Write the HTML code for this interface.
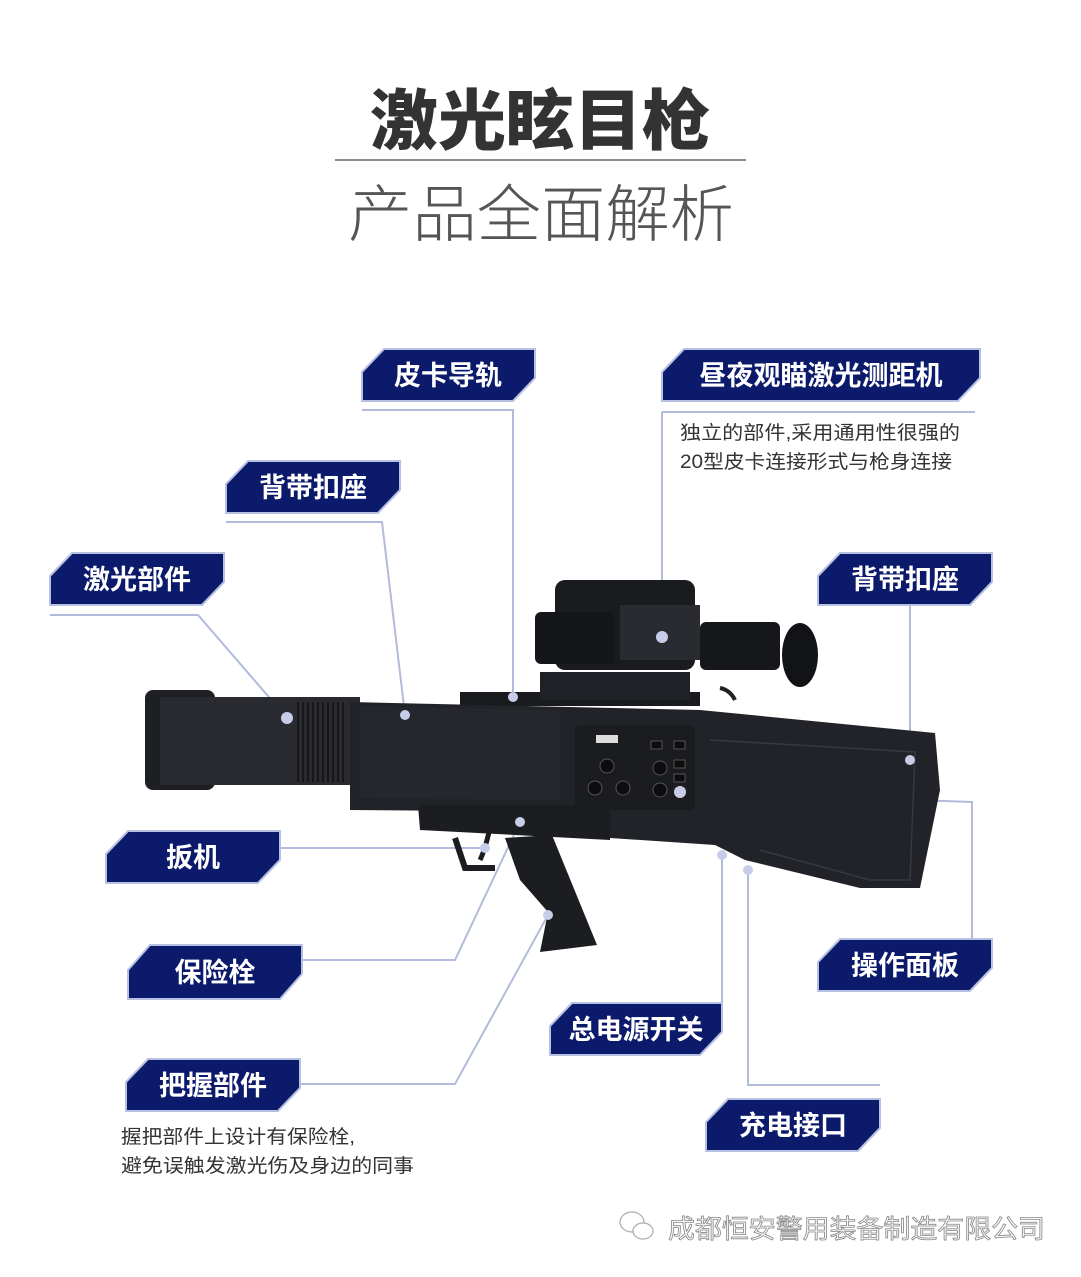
<!DOCTYPE html>
<html><head><meta charset="utf-8"><style>
html,body{margin:0;padding:0;background:#fff;}
svg{display:block;font-family:"Liberation Sans","Noto Sans CJK SC",sans-serif;}
</style></head><body>
<svg width="1081" height="1277" viewBox="0 0 1081 1277" xmlns="http://www.w3.org/2000/svg">
<rect width="1081" height="1277" fill="#fff"/>
<!-- Title -->
<text x="370" y="144" font-size="66" font-weight="900" fill="#333" textLength="340" lengthAdjust="spacingAndGlyphs">激光眩目枪</text>
<line x1="335" y1="160" x2="746" y2="160" stroke="#666" stroke-width="1.5"/>
<text x="348" y="236" font-size="62" font-weight="300" fill="#555" textLength="386" lengthAdjust="spacingAndGlyphs" font-family="'Noto Sans CJK SC',sans-serif">产品全面解析</text>

<!-- connector lines -->
<g stroke="#b3bbdc" stroke-width="2" fill="none">
<polyline points="362,410 513,410 513,697"/>
<polyline points="662,412 975,412"/>
<polyline points="662,412 662,637"/>
<polyline points="226,522 382,522 405,715"/>
<polyline points="50,615 198,615 287,718"/>
<polyline points="910,605 910,760"/>
<polyline points="280,848 485,848"/>
<polyline points="302,960 455,960 520,822"/>
<polyline points="300,1084 455,1084 548,915"/>
<polyline points="972,938 972,802 680,792"/>
<polyline points="722,1002 722,855"/>
<polyline points="880,1085 748,1085 748,870"/>
</g>

<!-- Gun -->
<g>
<rect x="145" y="690" width="70" height="100" rx="8" fill="#1e1f24"/>
<rect x="160" y="697" width="200" height="88" fill="#2a2b30"/>
<g stroke="#111" stroke-width="1.5">
<line x1="298" y1="702" x2="298" y2="782"/><line x1="303" y1="702" x2="303" y2="782"/><line x1="308" y1="702" x2="308" y2="782"/><line x1="313" y1="702" x2="313" y2="782"/><line x1="318" y1="702" x2="318" y2="782"/><line x1="323" y1="702" x2="323" y2="782"/><line x1="328" y1="702" x2="328" y2="782"/><line x1="333" y1="702" x2="333" y2="782"/><line x1="338" y1="702" x2="338" y2="782"/><line x1="343" y1="702" x2="343" y2="782"/>
</g>
<rect x="460" y="692" width="240" height="14" fill="#1a1b1f"/>
<rect x="540" y="672" width="150" height="28" fill="#202126"/>
<rect x="555" y="580" width="140" height="90" rx="10" fill="#1a1b1f"/>
<rect x="535" y="612" width="80" height="52" rx="6" fill="#15161a"/>
<rect x="620" y="605" width="80" height="55" fill="#2a2b30"/>
<rect x="700" y="622" width="80" height="48" rx="6" fill="#16171b"/>
<ellipse cx="800" cy="655" rx="18" ry="32" fill="#121316"/>
<path d="M720 688 Q730 690 735 700" stroke="#222" stroke-width="4" fill="none"/>
<polygon points="350,702 700,710 935,733 940,790 920,888 860,888 745,860 715,845 610,838 610,812 350,810" fill="#222328"/>
<polygon points="360,706 560,710 560,800 360,798" fill="#26272c"/>
<rect x="575" y="725" width="120" height="85" rx="6" fill="#1b1c20"/>
<rect x="596" y="735" width="22" height="8" fill="#ddd"/>
<g fill="#0d0d10" stroke="#555" stroke-width="1">
<circle cx="607" cy="766" r="7"/><circle cx="595" cy="788" r="7"/><circle cx="623" cy="788" r="7"/><circle cx="660" cy="768" r="7"/><circle cx="660" cy="790" r="7"/>
<rect x="651" y="741" width="11" height="8"/><rect x="674" y="741" width="11" height="8"/><rect x="674" y="760" width="11" height="8"/><rect x="674" y="774" width="11" height="8"/>
</g>
<path d="M710 740 L915 752 L910 880 L870 880 L760 850" stroke="#38393f" stroke-width="1.5" fill="none"/>
<polygon points="418,805 610,805 610,840 420,830" fill="#1c1d21"/>
<path d="M455 838 L465 868 L495 868" stroke="#1c1d21" stroke-width="6" fill="none"/>
<path d="M490 828 Q485 850 480 860" stroke="#1c1d21" stroke-width="5" fill="none"/>
<polygon points="505,838 552,835 597,945 540,952 548,912 520,880" fill="#1c1d21"/>
</g>

<!-- dots -->
<g fill="#c7cde8">
<circle cx="513" cy="697" r="5"/><circle cx="662" cy="637" r="6"/><circle cx="405" cy="715" r="5"/><circle cx="287" cy="718" r="6"/><circle cx="910" cy="760" r="5"/><circle cx="485" cy="848" r="5"/><circle cx="520" cy="822" r="5"/><circle cx="548" cy="915" r="5"/><circle cx="680" cy="792" r="6"/><circle cx="722" cy="855" r="5"/><circle cx="748" cy="870" r="5"/>
</g>

<!-- labels -->
<g fill="#0c1a6c" stroke="#b8c0e2" stroke-width="2">
<polygon points="384,349 535,349 535,378 513,401 362,401 362,372"/>
<polygon points="684,349 980,349 980,378 958,401 662,401 662,372"/>
<polygon points="248,461 400,461 400,490 378,513 226,513 226,484"/>
<polygon points="72,553 224,553 224,582 202,605 50,605 50,576"/>
<polygon points="840,553 992,553 992,582 970,605 818,605 818,576"/>
<polygon points="128,831 280,831 280,860 258,883 106,883 106,854"/>
<polygon points="150,945 302,945 302,974 280,999 128,999 128,970"/>
<polygon points="148,1059 300,1059 300,1088 278,1111 126,1111 126,1082"/>
<polygon points="840,939 992,939 992,968 970,991 818,991 818,962"/>
<polygon points="572,1003 722,1003 722,1032 700,1055 550,1055 550,1026"/>
<polygon points="728,1099 880,1099 880,1128 858,1151 706,1151 706,1122"/>
</g>
<g fill="#fff" font-size="27" font-weight="bold" text-anchor="middle">
<text x="448" y="385">皮卡导轨</text>
<text x="821" y="385">昼夜观瞄激光测距机</text>
<text x="313" y="497">背带扣座</text>
<text x="137" y="589">激光部件</text>
<text x="905" y="589">背带扣座</text>
<text x="193" y="867">扳机</text>
<text x="215" y="982">保险栓</text>
<text x="213" y="1095">把握部件</text>
<text x="905" y="975">操作面板</text>
<text x="636" y="1039">总电源开关</text>
<text x="793" y="1135">充电接口</text>
</g>
<g fill="#333" font-size="19">
<text x="680" y="439" textLength="280" lengthAdjust="spacingAndGlyphs">独立的部件,采用通用性很强的</text>
<text x="680" y="468" textLength="272" lengthAdjust="spacingAndGlyphs">20型皮卡连接形式与枪身连接</text>
<text x="121" y="1143" textLength="234" lengthAdjust="spacingAndGlyphs">握把部件上设计有保险栓,</text>
<text x="121" y="1172" textLength="293" lengthAdjust="spacingAndGlyphs">避免误触发激光伤及身边的同事</text>
</g>
<g fill="none" stroke="#aaa" stroke-width="1.2">
<ellipse cx="632" cy="1222" rx="12" ry="10"/>
<ellipse cx="643" cy="1231" rx="10" ry="8" fill="#fff"/>
</g>
<text x="668" y="1238" font-size="26" fill="#fafafa" stroke="#888" stroke-width="0.8" textLength="377" lengthAdjust="spacingAndGlyphs">成都恒安警用装备制造有限公司</text>
</svg>
</body></html>
